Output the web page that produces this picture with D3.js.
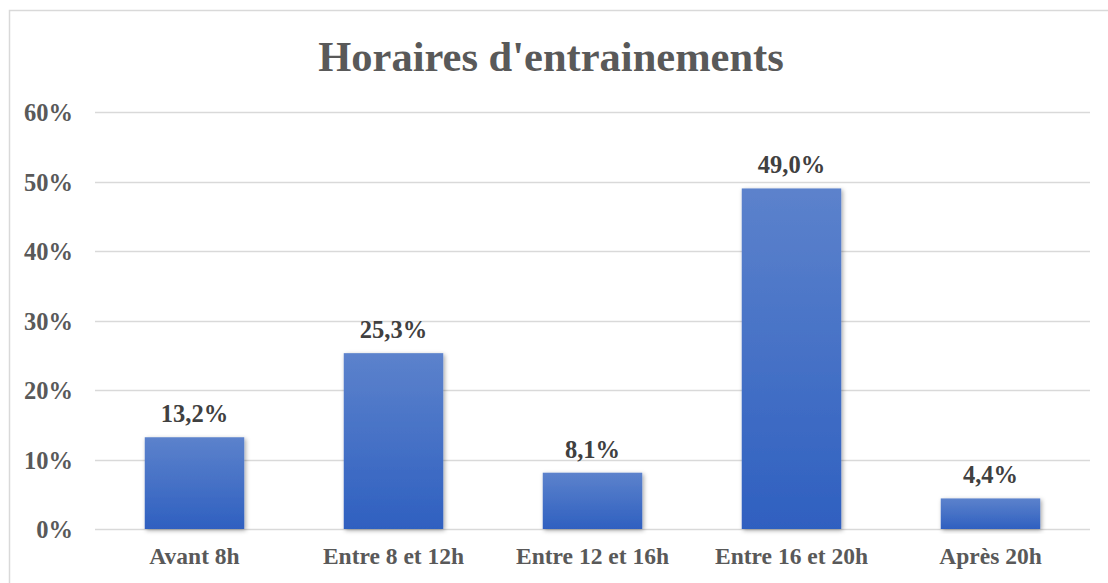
<!DOCTYPE html>
<html lang="fr">
<head>
	<meta charset="utf-8" />
	<title>Horaires d'entrainements</title>
	<script src="https://cdnjs.cloudflare.com/ajax/libs/d3/7.8.5/d3.min.js"></script>
	<style>
		body { margin: 0; background: #fff; }
		svg { display: block; }
		text { font-family: "Liberation Serif", "Times New Roman", serif; font-weight: bold; }
	</style>
</head>
<body>
<div id="chart"></div>
<script>
	// donnees
	var categories = ["Avant 8h", "Entre 8 et 12h", "Entre 12 et 16h", "Entre 16 et 20h", "Après 20h"];
	var valeurs = [13.2, 25.3, 8.1, 49.0, 4.4];
	var ticks = [0, 10, 20, 30, 40, 50, 60];

	var width = 1108, height = 583;
	var margin = {top: 112, right: 18, bottom: 54, left: 95};

	var svg = d3.select("#chart").append("svg")
		.attr("width", width)
		.attr("height", height);

	var defs = svg.append("defs");
	var grad = defs.append("linearGradient")
		.attr("id", "barGrad")
		.attr("x1", 0).attr("y1", 0).attr("x2", 0).attr("y2", 1);
	grad.append("stop").attr("offset", "0%").attr("stop-color", "#5C82CC");
	grad.append("stop").attr("offset", "100%").attr("stop-color", "#2F60C0");

	var shadow = defs.append("filter").attr("id", "ombre")
		.attr("x", "-10%").attr("y", "-10%").attr("width", "125%").attr("height", "125%");
	shadow.append("feDropShadow")
		.attr("dx", 1.5).attr("dy", 1.5).attr("stdDeviation", 2)
		.attr("flood-color", "#000").attr("flood-opacity", 0.35);

	// cadre
	svg.append("rect")
		.attr("x", 9.5).attr("y", 10.5)
		.attr("width", width + 10).attr("height", height + 10)
		.attr("fill", "none")
		.attr("stroke", "#D9D9D9")
		.attr("stroke-width", 1.5);

	svg.append("text")
		.attr("x", 551).attr("y", 71)
		.attr("text-anchor", "middle")
		.attr("fill", "#595959")
		.style("font-size", "42.5px")
		.text("Horaires d'entrainements");

	var x = d3.scaleBand()
		.domain(categories)
		.range([margin.left, width - margin.right])
		.paddingInner(0.5)
		.paddingOuter(0.25);

	var y = d3.scaleLinear()
		.domain([0, 60])
		.range([height - margin.bottom, margin.top]);

	// grille
	svg.append("g").selectAll("line")
		.data(ticks)
		.enter().append("line")
		.attr("x1", margin.left).attr("x2", width - margin.right)
		.attr("y1", function(d) { return Math.round(y(d)) + 0.5; })
		.attr("y2", function(d) { return Math.round(y(d)) + 0.5; })
		.attr("stroke", "#D9D9D9")
		.attr("stroke-width", 1.5);

	var yAxis = d3.axisLeft(y)
		.tickValues(ticks)
		.tickFormat(function(d) { return d + "%"; })
		.tickSize(0)
		.tickPadding(0);

	var gy = svg.append("g")
		.attr("transform", "translate(" + (margin.left - 22) + ",0)")
		.call(yAxis);
	gy.select(".domain").remove();
	gy.selectAll("text")
		.attr("fill", "#595959")
		.attr("dy", "0.35em")
		.style("font-size", "24.5px");

	var xAxis = d3.axisBottom(x).tickSize(0).tickPadding(0);
	var gx = svg.append("g")
		.attr("transform", "translate(0," + (height - margin.bottom + 19) + ")")
		.call(xAxis);
	gx.select(".domain").remove();
	gx.selectAll("text")
		.attr("fill", "#595959")
		.attr("dy", "0.7em")
		.style("font-size", "23.5px");

	// barres
	svg.append("g").selectAll("rect")
		.data(valeurs)
		.enter().append("rect")
		.attr("x", function(d, i) { return x(categories[i]); })
		.attr("width", x.bandwidth())
		.attr("y", function(d) { return y(d); })
		.attr("height", function(d) { return y(0) - y(d); })
		.attr("fill", "url(#barGrad)")
		.attr("filter", "url(#ombre)");

	svg.append("g").selectAll("text")
		.data(valeurs)
		.enter().append("text")
		.attr("x", function(d, i) { return x(categories[i]) + x.bandwidth() / 2; })
		.attr("y", function(d) { return y(d) - 15; })
		.attr("text-anchor", "middle")
		.attr("fill", "#404040")
		.style("font-size", "24.5px")
		.text(function(d) { return d.toFixed(1).replace(".", ",") + "%"; });
</script>
</body>
</html>
